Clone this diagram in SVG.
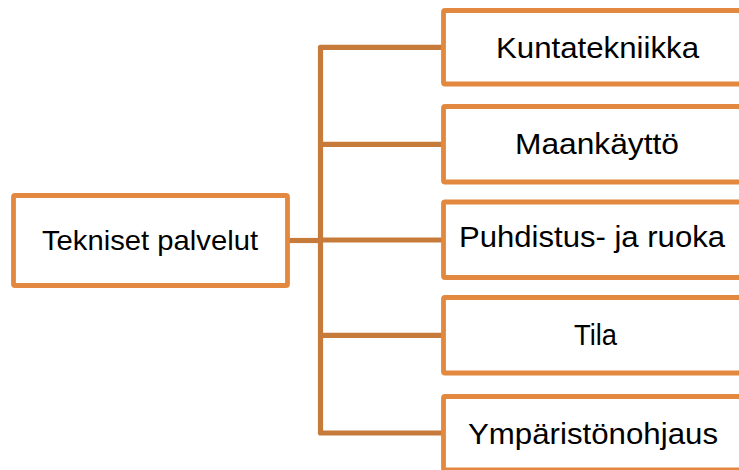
<svg xmlns="http://www.w3.org/2000/svg" width="739" height="470" viewBox="0 0 739 470">
  <style>
    .box { fill: #FFFFFF; stroke: #E2883F; stroke-width: 4.8; }
    .conn { fill: none; stroke: #C77B3A; stroke-width: 5.2; stroke-linejoin: round; }
    .lbl { font-family: "Liberation Sans", Arial, sans-serif; fill: #000000; text-anchor: middle; }
    .big { font-size: 30px; }
    .mid { font-size: 28.5px; }
  </style>
  <rect width="739" height="470" fill="#FFFFFF"/>
  <g id="connectors">
    <path class="conn" d="M442,47.3 H320.5 V433 H442"/>
    <path class="conn" d="M320.5,144.3 H442"/>
    <path class="conn" d="M320.5,240 H442"/>
    <path class="conn" d="M320.5,335.3 H442"/>
    <path class="conn" d="M289,240.5 H320.5"/>
  </g>
  <g id="node-tekniset">
    <rect class="box" x="13.5" y="195.5" width="274" height="90" rx="1.5"/>
    <text class="lbl mid" x="150" y="250" textLength="216" lengthAdjust="spacingAndGlyphs">Tekniset palvelut</text>
  </g>
  <g id="node-kuntatekniikka">
    <rect class="box" x="443.5" y="10.5" width="330" height="73.5" rx="1.5"/>
    <text class="lbl big" x="597.5" y="57.5" textLength="203" lengthAdjust="spacingAndGlyphs">Kuntatekniikka</text>
  </g>
  <g id="node-maankaytto">
    <rect class="box" x="443.5" y="106.5" width="330" height="75.5" rx="1.5"/>
    <text class="lbl big" x="597" y="153.5" textLength="164" lengthAdjust="spacingAndGlyphs">Maankäyttö</text>
  </g>
  <g id="node-puhdistus">
    <rect class="box" x="443.5" y="202" width="330" height="75.5" rx="1.5"/>
    <text class="lbl big" x="592" y="247" textLength="266" lengthAdjust="spacingAndGlyphs">Puhdistus- ja ruoka</text>
  </g>
  <g id="node-tila">
    <rect class="box" x="443.5" y="297.5" width="330" height="75.5" rx="1.5"/>
    <text class="lbl big" x="595.5" y="345" textLength="43" lengthAdjust="spacingAndGlyphs">Tila</text>
  </g>
  <g id="node-ymparistonohjaus">
    <rect class="box" x="443.5" y="396.5" width="330" height="73.5" rx="1.5"/>
    <text class="lbl big" x="593" y="443.5" textLength="250" lengthAdjust="spacingAndGlyphs">Ympäristönohjaus</text>
  </g>
</svg>
